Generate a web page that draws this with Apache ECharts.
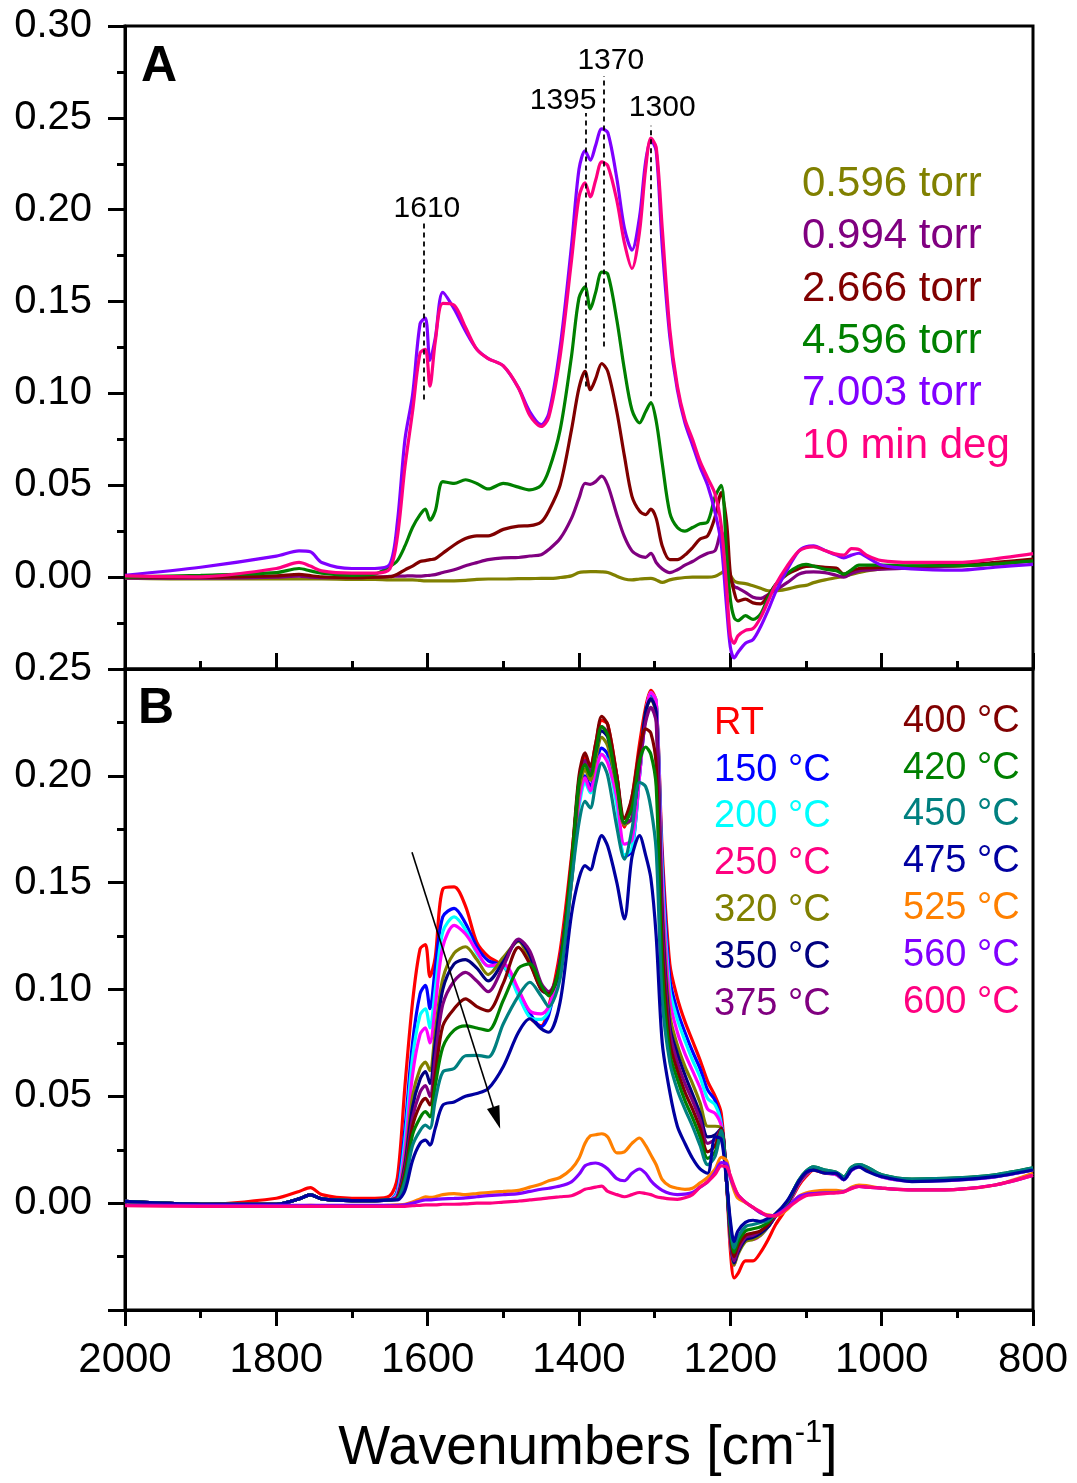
<!DOCTYPE html>
<html>
<head>
<meta charset="utf-8">
<script src="https://cdn.jsdelivr.net/npm/echarts@6/dist/echarts.min.js"></script>
<style>
html,body{margin:0;padding:0;background:#fff;}
#c{width:1077px;height:1483px;}
</style>
</head>
<body>
<div id="c"></div>
<script>
// ---------- DATA ----------
const wavenumbers = [2000,1900,1800,1770,1755,1740,1700,1670,1650,1640,1630,1620,1610,1603,1597,1590,1580,1565,1550,1535,1520,1500,1480,1465,1450,1440,1425,1410,1400,1392,1385,1378,1370,1362,1350,1340,1330,1320,1312,1305,1298,1290,1280,1270,1260,1250,1240,1230,1220,1212,1205,1200,1195,1190,1180,1170,1160,1150,1140,1125,1110,1100,1090,1075,1060,1050,1040,1030,1020,1000,960,900,850,800];

// Panel A (pressure series)
const a_0596 = [-0.0005,-0.001,-0.001,-0.001,-0.001,-0.001,-0.0012,-0.0012,-0.0015,-0.0015,
 -0.0015,-0.0015,-0.0018,-0.002,-0.002,-0.002,-0.002,-0.002,-0.0018,-0.0012,
 -0.001,-0.001,-0.0008,-0.0008,-0.0007,-0.0007,-0.0002,0.0007,0.0025,0.0029,
 0.003,0.003,0.0029,0.0025,0.0005,-0.001,-0.0015,-0.001,-0.0008,-0.0007,
 -0.0015,-0.0029,-0.0015,-0.0007,-0.0002,0,0,0,0.0005,0.0022,
 0.0043,0.001,-0.002,-0.003,-0.0035,-0.0047,-0.006,-0.0074,-0.0074,-0.0065,
 -0.005,-0.0045,-0.003,-0.0015,-0.0003,0.0004,0.0015,0.0025,0.0034,0.0045,
 0.0053,0.006,0.0072,0.0089];
const a_0994 = [-0.0005,-0.0005,0,0.0005,0,-0.0003,-0.0003,0,0.0004,0.0005,
 0.0006,0.0007,0.0005,0.0008,0.001,0.0014,0.0025,0.004,0.0062,0.0079,
 0.0095,0.0105,0.0107,0.0115,0.0122,0.015,0.021,0.032,0.043,0.051,
 0.0505,0.052,0.055,0.05,0.034,0.022,0.0143,0.0115,0.0108,0.013,
 0.008,0.0045,0.0025,0.004,0.0065,0.0085,0.011,0.013,0.0145,0.025,
 0.015,0,-0.005,-0.006,-0.0083,-0.011,-0.0116,-0.0095,-0.007,-0.003,
 0.0015,0.0027,0.0029,0.0025,0.001,0,0.002,0.0034,0.0038,0.0043,
 0.005,0.0062,0.0072,0.0089];
const a_2666 = [0,0,0.0007,0.0015,0.0008,0.0002,-0.0003,0,0.0002,0.0016,
 0.004,0.006,0.0085,0.009,0.0095,0.01,0.013,0.0175,0.021,0.0225,
 0.0225,0.026,0.0278,0.028,0.03,0.036,0.05,0.08,0.103,0.112,
 0.102,0.108,0.1163,0.112,0.09,0.066,0.044,0.036,0.034,0.037,
 0.032,0.017,0.0095,0.0095,0.012,0.016,0.0207,0.0225,0.033,0.046,
 0.03,0.002,-0.008,-0.013,-0.012,-0.014,-0.0145,-0.01,-0.004,0.0015,
 0.0045,0.0058,0.006,0.0053,0.005,0.0016,0.0035,0.0047,0.005,0.0053,
 0.006,0.0065,0.008,0.0098];
const a_4596 = [0,0.001,0.0025,0.0047,0.0034,0.0022,0.001,0.0016,0.0058,0.009,
 0.017,0.027,0.034,0.037,0.031,0.036,0.052,0.051,0.053,0.051,
 0.048,0.051,0.049,0.0475,0.05,0.058,0.08,0.12,0.152,0.158,
 0.146,0.155,0.166,0.165,0.14,0.113,0.091,0.084,0.09,0.095,
 0.085,0.062,0.035,0.027,0.025,0.027,0.029,0.03,0.044,0.05,
 0.013,-0.012,-0.022,-0.0237,-0.021,-0.023,-0.02,-0.011,-0.004,0.002,
 0.006,0.007,0.006,0.0043,0.0035,0.0016,0.004,0.0065,0.0065,0.0065,
 0.0062,0.0062,0.0072,0.0089];
const a_7003 = [0.001,0.0054,0.0114,0.0143,0.0138,0.008,0.0047,0.0047,0.007,0.03,
 0.075,0.099,0.138,0.141,0.118,0.13,0.155,0.146,0.134,0.124,
 0.119,0.115,0.103,0.09,0.083,0.089,0.125,0.18,0.222,0.232,
 0.227,0.235,0.244,0.242,0.217,0.19,0.178,0.196,0.226,0.238,
 0.232,0.18,0.131,0.102,0.084,0.072,0.06,0.05,0.035,0.018,
 -0.016,-0.038,-0.044,-0.041,-0.036,-0.034,-0.027,-0.018,-0.008,0.004,
 0.014,0.0165,0.017,0.0145,0.012,0.0105,0.012,0.013,0.011,0.0065,
 0.0045,0.0038,0.0054,0.007];
const a_10min = [0.0007,0.0002,0.0047,0.008,0.006,0.0034,0.0022,0.0022,0.0045,0.022,
 0.06,0.09,0.122,0.124,0.104,0.128,0.149,0.148,0.136,0.124,
 0.119,0.115,0.103,0.088,0.082,0.087,0.12,0.172,0.207,0.2146,
 0.207,0.216,0.226,0.224,0.205,0.182,0.168,0.188,0.222,0.239,
 0.234,0.19,0.135,0.104,0.086,0.075,0.063,0.054,0.045,0.028,
 -0.005,-0.032,-0.036,-0.032,-0.029,-0.028,-0.022,-0.013,-0.004,0.006,
 0.014,0.016,0.0165,0.0145,0.0125,0.012,0.0155,0.015,0.012,0.009,
 0.008,0.008,0.01,0.0128];

// Panel B (temperature series)
const b_RT = [0.0008,-0.0005,0.0023,0.0055,0.0073,0.004,0.0023,0.0023,0.0035,0.012,
 0.055,0.094,0.119,0.121,0.106,0.115,0.147,0.148,0.139,0.122,
 0.1155,0.111,0.099,0.087,0.083,0.092,0.118,0.162,0.195,0.209,
 0.204,0.215,0.226,0.224,0.2,0.176,0.19,0.215,0.232,0.24,
 0.235,0.165,0.112,0.096,0.085,0.076,0.067,0.057,0.05,0.042,
 0.01,-0.022,-0.035,-0.033,-0.027,-0.027,-0.023,-0.017,-0.01,-0.002,
 0.008,0.0125,0.0155,0.014,0.0135,0.011,0.0155,0.017,0.016,0.0124,
 0.0105,0.011,0.0125,0.0155];
const b_150 = [0.0008,-0.0005,-0.0005,0.002,0.0039,0.002,0.0012,0.0012,0.0015,0.006,
 0.035,0.075,0.098,0.102,0.091,0.11,0.134,0.138,0.131,0.12,
 0.1135,0.111,0.099,0.089,0.0825,0.088,0.114,0.155,0.19,0.2,
 0.195,0.205,0.213,0.21,0.188,0.162,0.165,0.2,0.228,0.238,
 0.235,0.16,0.105,0.09,0.08,0.071,0.063,0.053,0.048,0.038,
 0.012,-0.016,-0.027,-0.021,-0.016,-0.015,-0.014,-0.011,-0.006,-0.001,
 0.009,0.0135,0.016,0.0145,0.0135,0.011,0.0155,0.017,0.016,0.0125,
 0.0105,0.011,0.0125,0.0158];
const b_200 = [0.0008,-0.0005,-0.0005,0.002,0.0039,0.002,0.0012,0.0012,0.0015,0.005,
 0.03,0.068,0.088,0.091,0.082,0.1,0.127,0.134,0.128,0.117,
 0.111,0.1105,0.097,0.087,0.086,0.09,0.11,0.15,0.185,0.197,
 0.192,0.202,0.21,0.207,0.186,0.163,0.166,0.2,0.228,0.239,
 0.235,0.155,0.1,0.086,0.076,0.067,0.059,0.049,0.046,0.037,
 0.012,-0.017,-0.028,-0.022,-0.017,-0.016,-0.015,-0.011,-0.006,-0.001,
 0.009,0.0135,0.0158,0.0143,0.0133,0.011,0.0153,0.0168,0.0158,0.0123,
 0.0103,0.0108,0.0123,0.0155];
const b_250 = [0.0008,-0.0005,-0.0005,0.002,0.0039,0.002,0.0012,0.0012,0.0015,0.004,
 0.025,0.06,0.079,0.082,0.075,0.092,0.12,0.13,0.126,0.118,
 0.111,0.112,0.1,0.09,0.0886,0.092,0.11,0.15,0.188,0.199,
 0.193,0.202,0.21,0.206,0.19,0.168,0.17,0.2,0.228,0.239,
 0.235,0.15,0.095,0.08,0.07,0.062,0.054,0.044,0.042,0.036,
 0.01,-0.018,-0.029,-0.023,-0.017,-0.017,-0.015,-0.011,-0.006,-0.001,
 0.009,0.0135,0.0158,0.0143,0.0133,0.011,0.0153,0.0168,0.0158,0.0123,
 0.0103,0.0108,0.0123,0.0155];
const b_320 = [0.0008,-0.0005,-0.0005,0.002,0.0039,0.002,0.0012,0.0012,0.0015,0.003,
 0.02,0.05,0.063,0.066,0.062,0.08,0.105,0.117,0.12,0.114,
 0.107,0.115,0.1225,0.113,0.1,0.099,0.108,0.15,0.193,0.203,
 0.198,0.208,0.218,0.214,0.195,0.177,0.18,0.205,0.23,0.236,
 0.228,0.14,0.088,0.074,0.064,0.056,0.047,0.036,0.036,0.035,
 0.01,-0.017,-0.029,-0.024,-0.018,-0.017,-0.015,-0.011,-0.006,-0.0005,
 0.0095,0.014,0.0162,0.0148,0.0138,0.0115,0.016,0.0172,0.0162,0.0127,
 0.0107,0.0112,0.0127,0.016];
const b_350 = [0.0008,-0.0005,-0.0005,0.002,0.0039,0.002,0.0012,0.0012,0.0015,0.003,
 0.018,0.045,0.058,0.0616,0.056,0.075,0.1,0.112,0.114,0.11,
 0.104,0.113,0.123,0.116,0.1,0.098,0.11,0.155,0.197,0.207,
 0.201,0.211,0.221,0.218,0.198,0.178,0.18,0.205,0.23,0.236,
 0.23,0.135,0.083,0.07,0.06,0.051,0.042,0.031,0.032,0.035,
 0.01,-0.016,-0.028,-0.023,-0.017,-0.016,-0.014,-0.011,-0.006,-0.0005,
 0.0095,0.014,0.0162,0.0148,0.0138,0.0115,0.016,0.0172,0.0162,0.0127,
 0.0107,0.0112,0.0127,0.016];
const b_375 = [0.0008,-0.0005,-0.0005,0.002,0.0039,0.002,0.0012,0.0012,0.0015,0.003,
 0.016,0.04,0.052,0.055,0.05,0.068,0.093,0.104,0.108,0.104,
 0.099,0.111,0.1236,0.118,0.103,0.099,0.112,0.157,0.198,0.207,
 0.202,0.212,0.223,0.22,0.2,0.178,0.18,0.205,0.225,0.232,
 0.225,0.13,0.08,0.066,0.056,0.048,0.039,0.028,0.03,0.035,
 0.01,-0.015,-0.027,-0.022,-0.016,-0.015,-0.013,-0.01,-0.006,0,
 0.0095,0.014,0.0162,0.0148,0.0138,0.0115,0.016,0.0172,0.0162,0.0127,
 0.0107,0.0112,0.0127,0.016];
const b_400 = [0.0008,-0.0005,-0.0005,0.002,0.0039,0.002,0.0012,0.0012,0.0015,0.0025,
 0.014,0.036,0.046,0.049,0.046,0.06,0.083,0.091,0.0956,0.092,
 0.09,0.103,0.1197,0.112,0.1,0.098,0.113,0.16,0.2,0.2107,
 0.2044,0.215,0.2278,0.224,0.2,0.18,0.19,0.212,0.222,0.22,
 0.205,0.12,0.075,0.062,0.052,0.044,0.035,0.024,0.027,0.035,
 0.01,-0.014,-0.025,-0.02,-0.015,-0.014,-0.013,-0.01,-0.005,0,
 0.01,0.0145,0.0166,0.0152,0.0142,0.012,0.0165,0.0177,0.0167,0.013,
 0.011,0.0115,0.013,0.0163];
const b_420 = [0.0008,-0.0005,-0.0005,0.002,0.0039,0.002,0.0012,0.0012,0.0015,0.002,
 0.012,0.032,0.04,0.0428,0.0404,0.055,0.073,0.081,0.083,0.082,
 0.0808,0.095,0.11,0.112,0.102,0.097,0.112,0.158,0.197,0.2052,
 0.2,0.211,0.223,0.219,0.196,0.178,0.185,0.207,0.2135,0.21,
 0.195,0.11,0.07,0.058,0.048,0.04,0.031,0.021,0.024,0.034,
 0.01,-0.012,-0.023,-0.018,-0.013,-0.012,-0.011,-0.009,-0.005,0.0005,
 0.0105,0.015,0.017,0.0155,0.0145,0.0123,0.0168,0.018,0.017,0.0133,
 0.0113,0.0118,0.0133,0.0165];
const b_450 = [0.0008,-0.0005,-0.0005,0.002,0.0039,0.002,0.0012,0.0012,0.0015,0.002,
 0.01,0.027,0.034,0.0365,0.035,0.048,0.0614,0.063,0.069,0.0692,
 0.0684,0.084,0.097,0.1034,0.097,0.092,0.105,0.15,0.178,0.188,
 0.185,0.196,0.206,0.2,0.176,0.161,0.175,0.197,0.195,0.185,
 0.165,0.095,0.066,0.053,0.044,0.036,0.027,0.018,0.022,0.034,
 0.01,-0.01,-0.021,-0.016,-0.011,-0.01,-0.009,-0.008,-0.005,0.0005,
 0.0105,0.015,0.017,0.0155,0.0145,0.0123,0.0168,0.018,0.017,0.0133,
 0.0113,0.0118,0.0133,0.0165];
const b_475 = [0.0008,-0.0005,-0.0005,0.002,0.0039,0.002,0.0012,0.0012,0.0015,0.0015,
 0.006,0.02,0.028,0.0295,0.0272,0.035,0.0459,0.0474,0.05,0.0513,
 0.0536,0.064,0.08,0.0863,0.0816,0.08,0.094,0.135,0.152,0.158,
 0.156,0.164,0.172,0.167,0.15,0.133,0.162,0.172,0.163,0.152,
 0.125,0.075,0.052,0.036,0.028,0.021,0.016,0.014,0.031,0.03,
 0.01,-0.008,-0.018,-0.013,-0.009,-0.008,-0.0085,-0.007,-0.005,0.001,
 0.01,0.0145,0.0155,0.014,0.014,0.011,0.0155,0.017,0.015,0.0124,
 0.0101,0.0109,0.0124,0.0155];
const b_525 = [-0.001,-0.0012,-0.0012,-0.0012,-0.001,-0.0012,-0.0012,-0.0012,-0.001,-0.0008,
 -0.0005,0.0005,0.002,0.003,0.0027,0.003,0.004,0.0045,0.004,0.0045,
 0.005,0.0055,0.006,0.0075,0.009,0.0105,0.012,0.016,0.021,0.028,
 0.0315,0.032,0.0325,0.031,0.0235,0.024,0.028,0.0305,0.027,0.0225,
 0.018,0.011,0.008,0.007,0.0065,0.007,0.0095,0.012,0.016,0.0215,
 0.02,0.012,0.006,0.0023,0.0003,-0.002,-0.0045,-0.0055,-0.006,-0.003,
 0.003,0.0047,0.0055,0.006,0.006,0.0056,0.0075,0.0085,0.0082,0.007,
 0.0062,0.0065,0.0085,0.014];
const b_560 = [-0.001,-0.001,-0.001,-0.001,-0.001,-0.001,-0.001,-0.001,-0.001,-0.001,
 -0.0008,0,0.001,0.0015,0.0015,0.0018,0.002,0.0022,0.0025,0.003,
 0.0035,0.004,0.0045,0.0055,0.0065,0.007,0.008,0.01,0.0135,0.0175,
 0.0185,0.0188,0.018,0.016,0.0115,0.0105,0.014,0.016,0.014,0.0105,
 0.008,0.006,0.0045,0.004,0.0042,0.005,0.0075,0.01,0.0145,0.019,
 0.0185,0.012,0.0075,0.004,0.0005,-0.002,-0.0045,-0.0058,-0.0055,-0.002,
 0.003,0.0042,0.0045,0.0048,0.005,0.0054,0.007,0.0078,0.0075,0.007,
 0.0062,0.0065,0.0085,0.013];
const b_600 = [-0.0012,-0.0015,-0.0015,-0.0015,-0.0015,-0.0015,-0.0015,-0.0015,-0.0015,-0.0015,
 -0.0015,-0.0012,-0.001,-0.0008,-0.0008,-0.0008,-0.0005,-0.0005,-0.0003,0,
 0,0.0005,0.001,0.0015,0.002,0.0025,0.003,0.0035,0.005,0.0065,
 0.007,0.0075,0.008,0.0055,0.004,0.003,0.004,0.005,0.0045,0.004,
 0.003,0.0025,0.002,0.0018,0.0025,0.004,0.0075,0.01,0.0135,0.0175,
 0.017,0.013,0.008,0.004,0.0005,-0.002,-0.004,-0.006,-0.0058,-0.0025,
 0.0015,0.0035,0.004,0.0045,0.0048,0.0052,0.0068,0.0078,0.0075,0.007,
 0.0062,0.0065,0.0085,0.013];

const namesA = ['0.596 torr','0.994 torr','2.666 torr','4.596 torr','7.003 torr','10 min deg'];
const valuesA = [a_0596,a_0994,a_2666,a_4596,a_7003,a_10min];
const namesB = ['RT','150 °C','200 °C','250 °C','320 °C','350 °C','375 °C','400 °C','420 °C','450 °C','475 °C','525 °C','560 °C','600 °C'];
const valuesB = [b_RT,b_150,b_200,b_250,b_320,b_350,b_375,b_400,b_420,b_450,b_475,b_525,b_560,b_600];

// peak annotations (panel A)
const peakLabels = ['1610','1395','1370','1300'];
const peakLineX = [1605,1391,1367,1305];
const peakLineBottom = [0.0967,0.1038,0.1255,0.0984];
const peakLineTop = [0.193,0.2527,0.2728,0.2457];
const peakLabelX = [1601,1421,1358,1290];
const peakLabelY = [0.2005,0.2592,0.281,0.2554];

// trend arrow in panel B: start and head centre
const arrowStart = [1620.7,0.1642];
const arrowEnd = [1508.8,0.0399];

const xTicks = [2000,1800,1600,1400,1200,1000,800];
const yTicksA = [0.00,0.05,0.10,0.15,0.20,0.25,0.30];
const yTicksB = [0.00,0.05,0.10,0.15,0.20,0.25];

// ---------- STYLE ----------
const colorsA = ['#808000','#800080','#800000','#008000','#8000FF','#FF0080'];
const colorsB = ['#FF0000','#0000FF','#00FFFF','#FF00FF','#808000','#000080','#800080','#800000','#008000','#008080','#0000A0','#FF8000','#8000FF','#FF0080'];
const legendTextColorsB = ['#FF0000','#0000FF','#00FFFF','#FF0080','#808000','#000080','#800080','#800000','#008000','#008080','#0000A0','#FF8000','#8000FF','#FF0080'];
const FONT = "'Liberation Sans', Arial, Helvetica, sans-serif";
const LW = 3.2;

const chart = echarts.init(document.getElementById('c'), null, {renderer:'canvas'});
const pairs = arr => wavenumbers.map((w,i)=>[w, arr[i]]);
const AXC = '#000';

function xAxis(grid, bottom){
  const o = {
    type:'value', gridIndex:grid, inverse:true, min:800, max:2000, interval:200,
    axisLine:{show:true,onZero:false,lineStyle:{color:AXC,width:3}},
    axisTick:{show:true,inside:!bottom,length:16,lineStyle:{color:AXC,width:3}},
    minorTick:{show:true,splitNumber:2,length:8,lineStyle:{color:AXC,width:3}},
    splitLine:{show:false}, minorSplitLine:{show:false},
    axisLabel:{show:bottom,fontSize:42,color:'#000',fontFamily:FONT,margin:29,
      formatter: v => { const t = xTicks.find(k => Math.abs(k - v) < 1e-6); return t === undefined ? '' : String(t); }}
  };
  if(bottom){
    o.name = 'Wavenumbers [cm{sup|-1}]';
    o.nameLocation = 'middle';
    o.nameGap = 108;
    o.nameTextStyle = {fontSize:55,color:'#000',fontFamily:FONT,lineHeight:62,padding:[0,0,0,18],
      rich:{sup:{fontSize:31,fontFamily:FONT,color:'#000',verticalAlign:'top',lineHeight:34}}};
  }
  return o;
}
function yAxis(grid, max, ticks){
  return {
    type:'value', gridIndex:grid, min:-0.05, max:max, interval:0.05,
    axisLine:{show:true,onZero:false,lineStyle:{color:AXC,width:3}},
    axisTick:{show:true,length:17,lineStyle:{color:AXC,width:3}},
    minorTick:{show:true,splitNumber:2,length:8,lineStyle:{color:AXC,width:3}},
    splitLine:{show:false},
    axisLabel:{fontSize:40,color:'#000',fontFamily:FONT,margin:33,
      formatter: v => { const t = ticks.find(k => Math.abs(k - v) < 1e-6); return t === undefined ? '' : t.toFixed(2); }}
  };
}

const series = [];
namesA.forEach((n,i)=>series.push({name:n,type:'line',xAxisIndex:0,yAxisIndex:0,data:pairs(valuesA[i]),
  showSymbol:false,symbol:'none',smooth:0.3,lineStyle:{width:LW,color:colorsA[i]},itemStyle:{color:colorsA[i]},silent:true,z:2+i}));
namesB.forEach((n,i)=>series.push({name:n,type:'line',xAxisIndex:1,yAxisIndex:1,data:pairs(valuesB[i]),
  showSymbol:false,symbol:'none',smooth:0.3,lineStyle:{width:LW,color:colorsB[i]},itemStyle:{color:colorsB[i]},silent:true,z:2+i}));

// dashed peak lines
series.push({type:'lines',coordinateSystem:'cartesian2d',xAxisIndex:0,yAxisIndex:0,silent:true,z:30,
  symbol:['none','none'],
  lineStyle:{color:'#000',width:1.8,type:[5,4],opacity:1},
  data: peakLineX.map((x,i)=>({coords:[[x,peakLineBottom[i]],[x,peakLineTop[i]]]}))});
// peak labels
series.push({type:'scatter',xAxisIndex:0,yAxisIndex:0,silent:true,symbolSize:0,z:31,
  itemStyle:{opacity:1,color:'#000'},
  data: peakLabels.map((t,i)=>({value:[peakLabelX[i],peakLabelY[i]],name:t})),
  label:{show:true,position:'inside',formatter:p=>p.name,fontSize:30,color:'#000',opacity:1,
    textBorderWidth:0,fontFamily:FONT}});
// arrow
series.push({type:'line',xAxisIndex:1,yAxisIndex:1,silent:true,z:40,smooth:false,
  lineStyle:{color:'#000',width:1.6},itemStyle:{color:'#000'},showSymbol:true,
  data:[{value:arrowStart,symbol:'none'},{value:arrowEnd,symbol:'triangle',symbolSize:[13,23],symbolRotate:0}]});

const legendBase = {orient:'vertical',itemWidth:0,itemHeight:0,itemGap:0,selectedMode:false,icon:'rect',padding:0};
const option = {
  animation:false,
  backgroundColor:'#fff',
  grid:[
    {left:125,top:26,width:908,height:643,show:true,borderColor:'#000',borderWidth:3,backgroundColor:'transparent'},
    {left:125,top:669,width:908,height:641,show:true,borderColor:'#000',borderWidth:3,backgroundColor:'transparent'}
  ],
  xAxis:[xAxis(0,false), xAxis(1,true)],
  yAxis:[yAxis(0,0.30,yTicksA), yAxis(1,0.25,yTicksB)],
  legend:[
    Object.assign({},legendBase,{left:797,top:158,
      textStyle:{fontSize:42,lineHeight:52.4,fontFamily:FONT},
      data:namesA.map((n,i)=>({name:n,textStyle:{color:colorsA[i]}}))}),
    Object.assign({},legendBase,{left:709,top:700,
      textStyle:{fontSize:38,lineHeight:46.8,fontFamily:FONT},
      data:namesB.slice(0,7).map((n,i)=>({name:n,textStyle:{color:legendTextColorsB[i]}}))}),
    Object.assign({},legendBase,{left:898,top:698,
      textStyle:{fontSize:38,lineHeight:46.8,fontFamily:FONT},
      data:namesB.slice(7).map((n,i)=>({name:n,textStyle:{color:legendTextColorsB[i+7]}}))})
  ],
  graphic:[
    {type:'text',left:141,top:42,style:{text:'A',font:'bold 50px '+FONT,fill:'#000'}},
    {type:'text',left:138,top:684,style:{text:'B',font:'bold 50px '+FONT,fill:'#000'}}
  ],
  series: series
};
chart.setOption(option);

// orient the arrow head along the arrow line (pixel space from the library's own scales)
const p0 = chart.convertToPixel({xAxisIndex:1,yAxisIndex:1}, arrowStart);
const p1 = chart.convertToPixel({xAxisIndex:1,yAxisIndex:1}, arrowEnd);
const ang = Math.atan2(p1[1]-p0[1], p1[0]-p0[0]) * 180 / Math.PI;
const rot = -(ang + 90);
const s = option.series[option.series.length-1];
s.data[1].symbolRotate = rot;
chart.setOption({series: option.series});
</script>
</body>
</html>
